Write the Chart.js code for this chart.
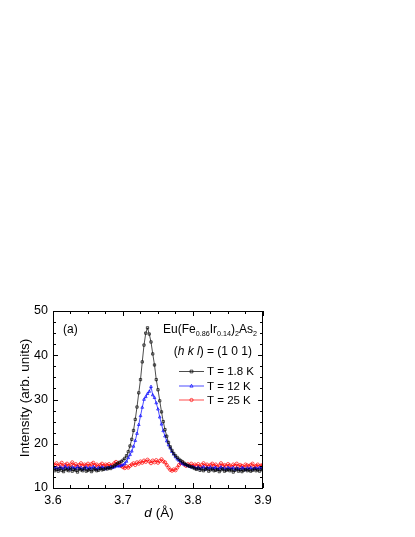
<!DOCTYPE html>
<html lang="en">
<head>
  <meta charset="UTF-8">
  <title>Eu(Fe0.86Ir0.14)2As2 (1 0 1) peak</title>
  <script src="https://cdn.jsdelivr.net/npm/chart.js"></script>
  <style>
    body { margin: 0; background: #fff; }
  </style>
</head>
<body>
  <canvas id="peakChart" width="415" height="537"></canvas>

  <script>
    // d spacing (Angstrom), one entry per measured point
    const dValues = [
      3.6, 3.6025, 3.605, 3.6075, 3.61, 3.6125, 3.615, 3.6175, 3.62, 3.6225,
      3.625, 3.6275, 3.63, 3.6325, 3.635, 3.6375, 3.64, 3.6425, 3.645, 3.6475,
      3.65, 3.6525, 3.655, 3.6575, 3.66, 3.6625, 3.665, 3.6675, 3.67, 3.6725,
      3.675, 3.6775, 3.68, 3.6825, 3.685, 3.6875, 3.69, 3.6925, 3.695, 3.6975,
      3.7, 3.7025, 3.705, 3.7075, 3.71, 3.7125, 3.715, 3.7175, 3.72, 3.7225,
      3.725, 3.7275, 3.73, 3.7325, 3.735, 3.7375, 3.74, 3.7425, 3.745, 3.7475,
      3.75, 3.7525, 3.755, 3.7575, 3.76, 3.7625, 3.765, 3.7675, 3.77, 3.7725,
      3.775, 3.7775, 3.78, 3.7825, 3.785, 3.7875, 3.79, 3.7925, 3.795, 3.7975,
      3.8, 3.8025, 3.805, 3.8075, 3.81, 3.8125, 3.815, 3.8175, 3.82, 3.8225,
      3.825, 3.8275, 3.83, 3.8325, 3.835, 3.8375, 3.84, 3.8425, 3.845, 3.8475,
      3.85, 3.8525, 3.855, 3.8575, 3.86, 3.8625, 3.865, 3.8675, 3.87, 3.8725,
      3.875, 3.8775, 3.88, 3.8825, 3.885, 3.8875, 3.89, 3.8925, 3.895, 3.8975,
      3.9
    ];

    const intensity18K = [
      14.3, 13.9, 14.2, 13.8, 14.4, 14.0, 13.7, 14.3, 14.1, 13.9,
      14.5, 13.8, 14.2, 14.0, 13.6, 14.3, 14.1, 13.9, 14.4, 13.8,
      14.0, 14.2, 13.7, 14.1, 14.3, 13.9, 14.0, 14.4, 14.1, 14.2,
      14.5, 14.3, 14.6, 14.4, 14.8, 15.0, 15.3, 15.6, 15.8, 16.0,
      16.3, 16.7, 17.3, 18.2, 19.5, 21.0, 23.0, 25.5, 28.3, 31.5,
      34.5, 38.5, 42.3, 45.0, 46.2, 44.8, 43.0, 40.3, 37.8, 34.5,
      32.2, 29.7, 27.2, 25.0, 23.2, 21.7, 20.3, 19.3, 18.5, 17.8,
      17.3, 16.9, 16.5, 16.2, 15.9, 15.6, 15.3, 15.1, 14.9, 14.8,
      14.6, 14.4, 14.2, 14.5, 14.0, 14.3, 13.9, 14.2, 14.4, 13.8,
      14.1, 14.3, 13.9, 14.0, 14.2, 13.7, 14.1, 14.3, 13.8, 14.0,
      14.2, 13.9, 14.1, 13.6, 14.0, 14.3, 13.8, 14.1, 13.7, 14.0,
      14.2, 13.9, 14.1, 13.8, 14.0, 14.3, 13.9, 14.1, 13.8, 14.2,
      14.0
    ];

    const intensity12K = [
      14.8, 14.4, 14.6, 14.2, 14.7, 14.5, 14.3, 14.9, 14.4, 14.6,
      14.2, 14.7, 14.5, 14.3, 14.8, 14.4, 14.6, 14.2, 14.5, 14.7,
      14.3, 14.6, 14.4, 14.8, 14.5, 14.2, 14.6, 14.4, 14.7, 14.5,
      14.3, 14.6, 14.5, 14.8, 14.6, 14.7, 14.9, 15.0, 14.9, 15.1,
      15.2, 15.5, 16.0, 16.8, 17.5, 18.3, 19.4, 20.7, 22.3, 24.3,
      26.3, 28.2, 30.0, 30.6, 31.3, 31.8, 32.9, 31.0, 30.4, 29.2,
      27.8, 26.0, 24.4, 22.9, 21.7, 20.6, 19.7, 19.0, 18.2, 17.6,
      17.0, 16.5, 16.2, 15.8, 15.5, 15.3, 15.2, 15.0, 14.9, 14.7,
      14.8, 14.6, 14.4, 14.7, 14.3, 14.5, 14.8, 14.2, 14.6, 14.4,
      14.7, 14.3, 14.5, 14.6, 14.2, 14.4, 14.7, 14.3, 14.5, 14.2,
      14.6, 14.4, 14.3, 14.6, 14.1, 14.5, 14.3, 14.2, 14.6, 14.4,
      14.1, 14.5, 14.3, 14.6, 14.2, 14.4, 14.5, 14.3, 14.6, 14.4,
      14.5
    ];

    const intensity25K = [
      15.4, 15.1, 15.6, 15.0, 15.3, 15.7, 14.9, 15.2, 15.5, 15.0,
      15.3, 15.8, 15.1, 15.4, 14.9, 15.2, 15.6, 15.0, 15.3, 15.1,
      15.5, 15.0, 15.4, 15.7, 15.1, 15.3, 14.9, 15.2, 15.5, 15.0,
      15.3, 15.1, 15.4, 15.0, 15.2, 15.6, 15.9, 15.3, 15.6, 15.0,
      14.7, 14.5, 14.9, 14.6, 15.0, 15.3, 15.6, 15.2, 15.8, 15.5,
      16.0, 15.7, 16.2, 15.9, 16.4, 16.0, 15.6, 16.2, 15.8, 16.3,
      15.7, 16.1, 16.5, 16.0, 15.8, 15.2, 14.6, 14.1, 13.9, 14.2,
      14.0, 14.6, 15.2, 15.6, 15.8, 15.3, 15.0, 15.4, 15.1, 15.5,
      15.0, 15.3, 15.0, 15.4, 14.8, 15.2, 15.6, 15.0, 15.3, 14.9,
      15.2, 15.5, 15.0, 15.3, 14.8, 15.1, 15.6, 15.0, 15.2, 14.9,
      15.4, 15.1, 14.8, 15.3, 15.0, 15.5, 14.9, 15.2, 15.0, 14.7,
      15.3, 15.1, 14.9, 15.2, 15.5, 14.8, 15.0, 15.3, 14.9, 15.1,
      15.2
    ];

    const seriesLabels = ['T = 1.8 K', 'T = 12 K', 'T = 25 K'];
    const xTickValues = [3.6, 3.7, 3.8, 3.9];
    const yTickValues = [10, 20, 30, 40, 50];

    const FONT = '"Liberation Sans", Arial, sans-serif';

    function toPoints(ys) {
      return dValues.map((d, i) => ({ x: d, y: ys[i] }));
    }

    function makeDataset(label, ys, color, style) {
      return {
        label: label,
        data: toPoints(ys),
        showLine: true,
        borderColor: color,
        borderWidth: 0.7,
        pointStyle: style,
        pointRadius: 1.6,
        pointBorderWidth: 0.7,
        pointBorderColor: color,
        pointBackgroundColor: 'rgba(255,255,255,0)',
        tension: 0
      };
    }

    // inward ticks on all four sides plus the frame
    const frameTicks = {
      id: 'frameTicks',
      afterDatasetsDraw(chart) {
        const { ctx, chartArea: a, scales: { x, y } } = chart;
        ctx.save();
        ctx.strokeStyle = '#000';
        ctx.lineWidth = 1;
        ctx.strokeRect(a.left + 0.5, a.top + 0.5, a.right - a.left - 1, a.bottom - a.top);
        ctx.beginPath();
        for (let v = 3.6; v <= 3.9001; v += 0.025) {
          const px = Math.round(x.getPixelForValue(v)) + 0.5;
          const major = Math.abs(v * 10 - Math.round(v * 10)) < 1e-6;
          const len = major ? 5 : 3;
          ctx.moveTo(px, a.bottom); ctx.lineTo(px, a.bottom - len);
          ctx.moveTo(px, a.top); ctx.lineTo(px, a.top + len);
        }
        for (let v = 10; v <= 50.001; v += 2.5) {
          const py = Math.round(y.getPixelForValue(v)) + 0.5;
          const major = Math.abs(v % 10) < 1e-6;
          const len = major ? 5 : 3;
          ctx.moveTo(a.left, py); ctx.lineTo(a.left + len, py);
          ctx.moveTo(a.right, py); ctx.lineTo(a.right - len, py);
        }
        ctx.stroke();
        ctx.restore();
      }
    };

    function drawMarker(ctx, style, cx, cy, r) {
      ctx.beginPath();
      if (style === 'rect') {
        ctx.rect(cx - r * 0.85, cy - r * 0.85, r * 1.7, r * 1.7);
      } else if (style === 'triangle') {
        ctx.moveTo(cx, cy - r * 1.1);
        ctx.lineTo(cx + r, cy + r * 0.7);
        ctx.lineTo(cx - r, cy + r * 0.7);
        ctx.closePath();
      } else {
        ctx.arc(cx, cy, r, 0, Math.PI * 2);
      }
      ctx.stroke();
    }

    // text with subscripts, laid out right-aligned
    function drawRich(ctx, parts, right, baseline, size) {
      const fontOf = (p) => (p.italic ? 'italic ' : '') + (p.sub ? size * 0.6 : size) + 'px ' + FONT;
      const widths = parts.map(p => {
        ctx.font = fontOf(p);
        return ctx.measureText(p.t).width;
      });
      let x = right - widths.reduce((s, w) => s + w, 0);
      parts.forEach((p, i) => {
        ctx.font = fontOf(p);
        ctx.fillText(p.t, x, p.sub ? baseline + 3 : baseline);
        x += widths[i];
      });
    }

    const annotations = {
      id: 'annotations',
      afterDraw(chart) {
        const { ctx, chartArea: a } = chart;
        ctx.save();
        ctx.fillStyle = '#000';
        ctx.textAlign = 'left';
        ctx.textBaseline = 'alphabetic';

        ctx.font = '12px ' + FONT;
        ctx.fillText('(a)', a.left + 10, 333);

        drawRich(ctx, [
          { t: 'Eu(Fe' }, { t: '0.86', sub: true }, { t: 'Ir' }, { t: '0.14', sub: true },
          { t: ')' }, { t: '2', sub: true }, { t: 'As' }, { t: '2', sub: true }
        ], a.right - 6, 333, 12);

        drawRich(ctx, [
          { t: '(' }, { t: 'h', italic: true }, { t: ' ' }, { t: 'k', italic: true }, { t: ' ' },
          { t: 'l', italic: true }, { t: ') = (1 0 1)' }
        ], a.right - 11, 355, 12);

        // legend
        const rows = [371.5, 386, 400];
        chart.data.datasets.forEach((ds, i) => {
          const yy = rows[i];
          ctx.strokeStyle = ds.borderColor;
          ctx.lineWidth = 0.7;
          ctx.beginPath();
          ctx.moveTo(179, yy); ctx.lineTo(204, yy);
          ctx.stroke();
          drawMarker(ctx, ds.pointStyle, 191.5, yy, 1.6);
          ctx.font = '11.5px ' + FONT;
          ctx.textBaseline = 'middle';
          ctx.fillText(ds.label, 207, yy + 0.5);
          ctx.textBaseline = 'alphabetic';
        });

        // axis titles
        ctx.font = '13.5px ' + FONT;
        ctx.save();
        ctx.translate(29, 398);
        ctx.rotate(-Math.PI / 2);
        ctx.textAlign = 'center';
        ctx.fillText('Intensity (arb. units)', 0, 0);
        ctx.restore();

        ctx.font = 'italic 13.5px ' + FONT;
        const dw = ctx.measureText('d').width;
        ctx.font = '13.5px ' + FONT;
        const rw = ctx.measureText(' (Å)').width;
        const cx = (a.left + a.right) / 2 + 1;
        const startX = cx - (dw + rw) / 2;
        ctx.font = 'italic 13.5px ' + FONT;
        ctx.fillText('d', startX, 517);
        ctx.font = '13.5px ' + FONT;
        ctx.fillText(' (Å)', startX + dw, 517);
        ctx.restore();
      }
    };

    function createChart() {
      const ctx = document.getElementById('peakChart').getContext('2d');
      new Chart(ctx, {
        type: 'scatter',
        data: {
          datasets: [
            makeDataset(seriesLabels[0], intensity18K, '#000000', 'rect'),
            makeDataset(seriesLabels[1], intensity12K, '#0000ff', 'triangle'),
            makeDataset(seriesLabels[2], intensity25K, '#ff0000', 'circle')
          ]
        },
        options: {
          responsive: false,
          animation: false,
          layout: { padding: { left: 0, right: 152, top: 311, bottom: 0 } },
          plugins: {
            legend: { display: false },
            tooltip: { enabled: false }
          },
          scales: {
            x: {
              type: 'linear',
              min: 3.6,
              max: 3.9,
              afterBuildTicks: (s) => { s.ticks = xTickValues.map(v => ({ value: v })); },
              afterFit: (s) => { s.height = 49; },
              grid: { display: false, drawTicks: false },
              border: { display: false },
              ticks: {
                color: '#000',
                padding: 5,
                maxRotation: 0,
                font: { family: FONT, size: 12.5 },
                callback: (v) => Number(v).toFixed(1)
              }
            },
            y: {
              min: 10,
              max: 50,
              afterBuildTicks: (s) => { s.ticks = yTickValues.map(v => ({ value: v })); },
              afterFit: (s) => { s.width = 53; },
              grid: { display: false, drawTicks: false },
              border: { display: false },
              ticks: {
                color: '#000',
                padding: 5,
                font: { family: FONT, size: 12.5 }
              }
            }
          }
        },
        plugins: [frameTicks, annotations]
      });
    }

    createChart();
  </script>
</body>
</html>
